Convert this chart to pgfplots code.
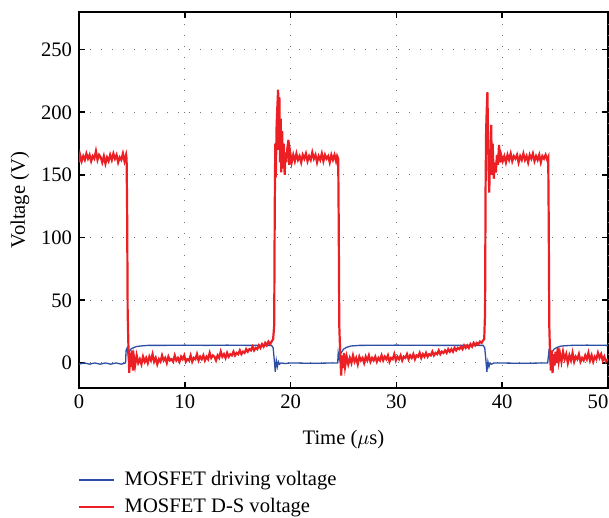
\documentclass[border=0pt]{standalone}
\usepackage{fontspec}
\setmainfont{Liberation Serif}
\usepackage{pgfplots}
\pgfplotsset{compat=1.18}
\definecolor{driveBlue}{RGB}{44,78,165}
\definecolor{dsRed}{RGB}{236,32,36}

\begin{document}
\begin{tikzpicture}
\begin{axis}[
  scale only axis,
  width=264.5pt, height=188pt,
  xmin=0, xmax=50, ymin=-20, ymax=280,
  xtick={0,10,...,40}, ytick={0,50,...,250},
  extra x ticks={50},
  extra x tick style={xticklabel style={xshift=-5pt}},
  tick align=inside,
  tick style={black, line width=0.8pt},
  major tick length=3pt,
  axis line style={black, line width=0.6pt},
  grid=major,
  grid style={black!55, line width=0.5pt, dash pattern=on 0.5pt off 5pt},
  /pgf/number format/assume math mode=true,
  tick label style={font=\fontsize{10.3}{12}\selectfont},
  label style={font=\fontsize{10.3}{12}\selectfont},
  xlabel={Time ($\mu$s)},
  ylabel={Voltage (V)},
  xlabel style={yshift=-4pt},
  ylabel style={yshift=-1pt},
  legend style={at={(0,0)}, anchor=north west, xshift=-3.5pt, yshift=-37.5pt,
    draw=none, fill=none, font=\fontsize{10.3}{12}\selectfont,
    row sep=1pt},
  legend cell align=left,
  clip=true,
]
\coordinate (bl) at (rel axis cs:0,0);
\coordinate (tr) at (rel axis cs:1,1);
\addplot[driveBlue, line width=0.65pt] coordinates {
  (0,-1)(0.5,0)(1,-1)(1.5,0)(2,-1)(2.5,0)(3,-1)(3.5,0)(4,-1)(4.4,0)
  (4.45,10)(4.55,12)(4.65,6)(4.75,9)(4.9,11)(5.1,12)(5.4,13)(5.8,13.5)
  (6.5,14)(8,14)(10,14.2)(12,14)(14,14.2)(16,14)(18.2,14)
  (18.35,12)(18.45,3)(18.55,-7)(18.65,2)(18.75,-3)(18.85,1)(18.95,-1)
  (19.1,0)(19.5,-0.5)(20,0)(22,-0.3)(24.45,0)
  (24.5,8)(24.6,3)(24.7,7)(24.85,9)(25.0,11)(25.3,12.5)(25.7,13.5)
  (26.5,14)(30,14.2)(34,14)(38.2,14)
  (38.35,12)(38.45,3)(38.55,-7)(38.65,1)(38.75,-3)(38.85,0)(39,-1)
  (39.2,0)(42,-0.3)(44.3,0)
  (44.4,8)(44.5,3)(44.6,7)(44.75,9)(44.9,11)(45.2,12.5)(45.6,13.5)
  (46.5,14)(48,14.2)(50,14)
};
\addlegendentry{\hspace{3pt}MOSFET driving voltage}
\addplot[dsRed, line width=1.1pt] coordinates {
  (0,160)(0.1,166)(0.25,161)(0.4,165)(0.55,162)(0.7,167)(0.85,163)(1.0,166)
  (1.15,161)(1.3,165)(1.45,163)(1.6,169)(1.75,162)(1.9,166)(2.05,164)(2.2,160)
  (2.35,165)(2.5,159)(2.65,164)(2.8,161)(2.95,166)(3.1,162)(3.25,167)(3.4,163)
  (3.55,166)(3.7,160)(3.85,164)(4.0,162)(4.15,167)(4.3,161)(4.45,166)
  (4.5,163)(4.55,120)(4.6,40)(4.68,10)(4.75,-8)(4.82,8)(4.9,-3)(5.0,10)
  (5.1,-6)(5.2,4)(5.3,-2)(5.45,6)(5.6,0)(5.75,3)(5.9,-1)(6.05,5)(6.2,1)
  (6.35,4)(6.5,0)(6.65,5)(6.8,2)(6.95,7)(7.1,1)(7.25,4)(7.4,-1)(7.55,3)
  (7.7,1)(7.85,6)(8.0,2)(8.15,4)(8.3,0)(8.45,5)(8.6,2)(8.75,3)(8.9,1)
  (9.05,6)(9.2,2)(9.35,4)(9.5,1)(9.65,5)(9.8,3)(9.95,6)(10.1,1)(10.25,3)
  (10.4,2)(10.55,6)(10.7,1)(10.85,4)(11.0,3)(11.15,7)(11.3,2)(11.45,5)
  (11.6,3)(11.75,6)(11.9,2)(12.05,5)(12.2,3)(12.35,8)(12.5,4)(12.65,6)
  (12.8,5)(12.95,2)(13.1,6)(13.25,4)(13.4,9)(13.55,5)(13.7,7)(13.85,4)
  (14.0,8)(14.15,5)(14.3,7)(14.45,6)(14.6,9)(14.75,6)(14.9,8)(15.05,7)
  (15.2,10)(15.35,7)(15.5,9)(15.65,8)(15.8,11)(15.95,9)(16.1,11)(16.25,10)
  (16.4,13)(16.55,10)(16.7,12)(16.85,11)(17.0,14)(17.15,12)(17.3,15)
  (17.45,13)(17.6,16)(17.75,14)(17.9,17)(18.05,15)(18.2,17)(18.35,19)
  (18.45,30)(18.5,120)(18.55,175)(18.6,148)(18.68,190)(18.75,205)(18.82,218)
  (18.88,170)(18.94,212)(19.0,160)(19.06,195)(19.12,152)(19.2,185)(19.28,155)
  (19.36,175)(19.44,150)(19.52,168)(19.6,160)(19.7,172)(19.8,178)(19.88,158)
  (19.96,168)(20.1,160)(20.25,166)(20.4,161)(20.55,167)(20.7,162)(20.85,165)
  (21.0,160)(21.15,166)(21.3,163)(21.45,167)(21.6,161)(21.75,165)(21.9,162)
  (22.05,168)(22.2,163)(22.35,166)(22.5,160)(22.65,165)(22.8,162)(22.95,167)
  (23.1,161)(23.25,166)(23.4,163)(23.55,165)(23.7,160)(23.85,166)(24.0,162)
  (24.15,166)(24.3,161)(24.4,165)(24.5,163)
  (24.55,110)(24.6,30)(24.7,5)(24.78,-10)(24.86,6)(24.94,-4)(25.05,8)
  (25.15,-3)(25.3,5)(25.45,-1)(25.6,4)(25.75,0)(25.9,6)(26.05,1)(26.2,4)
  (26.35,-1)(26.5,5)(26.65,2)(26.8,4)(26.95,0)(27.1,5)(27.25,2)(27.4,6)
  (27.55,1)(27.7,4)(27.85,2)(28.0,5)(28.15,1)(28.3,4)(28.45,2)(28.6,6)
  (28.75,2)(28.9,5)(29.05,3)(29.2,6)(29.35,1)(29.5,4)(29.65,3)(29.8,7)
  (29.95,2)(30.1,5)(30.25,3)(30.4,6)(30.55,2)(30.7,5)(30.85,4)(31.0,7)
  (31.15,3)(31.3,6)(31.45,4)(31.6,7)(31.75,3)(31.9,6)(32.05,5)(32.2,8)
  (32.35,4)(32.5,7)(32.65,5)(32.8,8)(32.95,5)(33.1,7)(33.25,6)(33.4,9)
  (33.55,6)(33.7,8)(33.85,7)(34.0,10)(34.15,7)(34.3,9)(34.45,8)(34.6,10)
  (34.75,8)(34.9,11)(35.05,9)(35.2,11)(35.35,9)(35.5,12)(35.65,10)(35.8,12)
  (35.95,11)(36.1,13)(36.25,11)(36.4,14)(36.55,12)(36.7,14)(36.85,12)
  (37.0,15)(37.15,13)(37.3,16)(37.45,14)(37.6,16)(37.75,15)(37.9,17)
  (38.05,16)(38.2,18)(38.3,19)
  (38.38,40)(38.43,140)(38.48,185)(38.55,205)(38.6,216)(38.66,185)(38.72,150)
  (38.78,136)(38.84,170)(38.9,155)(38.96,190)(39.02,150)(39.1,175)(39.2,147)
  (39.3,160)(39.4,152)(39.5,166)(39.6,158)(39.7,174)(39.8,160)(39.9,166)
  (40.05,161)(40.2,165)(40.35,160)(40.5,166)(40.65,162)(40.8,167)(40.95,161)
  (41.1,165)(41.25,163)(41.4,166)(41.55,160)(41.7,165)(41.85,162)(42.0,167)
  (42.15,162)(42.3,165)(42.45,160)(42.6,166)(42.75,163)(42.9,167)(43.05,161)
  (43.2,165)(43.35,162)(43.5,166)(43.65,160)(43.8,165)(43.95,163)(44.1,166)
  (44.25,162)(44.35,164)
  (44.4,110)(44.45,30)(44.52,8)(44.6,-6)(44.68,10)(44.76,-8)(44.85,7)
  (44.95,-2)(45.05,9)(45.15,0)(45.25,12)(45.35,2)(45.45,8)(45.6,1)(45.75,9)
  (45.9,3)(46.05,7)(46.2,0)(46.35,6)(46.5,2)(46.65,8)(46.8,1)(46.95,5)
  (47.1,3)(47.25,7)(47.4,1)(47.55,4)(47.7,2)(47.85,6)(48.0,3)(48.15,8)
  (48.3,2)(48.45,6)(48.6,1)(48.75,5)(48.9,3)(49.05,8)(49.2,4)(49.35,7)
  (49.5,2)(49.65,5)(49.8,1)(50,3)
};
\addlegendentry{\hspace{3pt}MOSFET D-S voltage}
\end{axis}
\pgfresetboundingbox
\path[use as bounding box] ([shift={(-39.5pt,-65pt)}]bl) rectangle ([shift={(0.5pt,6pt)}]tr);
\end{tikzpicture}
\end{document}
